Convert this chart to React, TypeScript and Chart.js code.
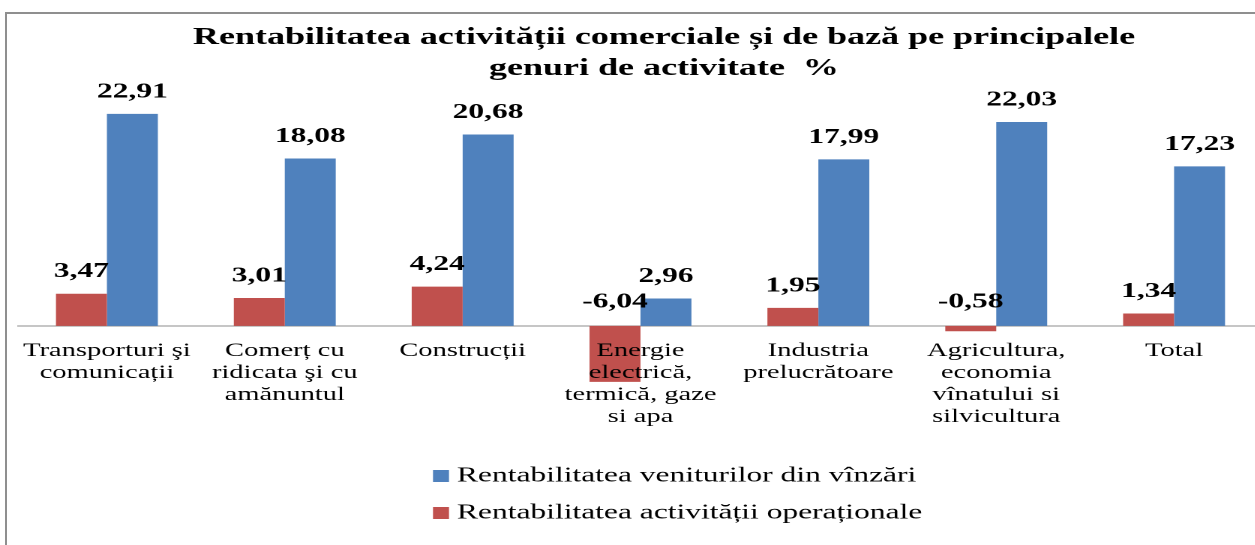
import { useEffect, useRef } from "react";
import { Chart, registerables } from "chart.js";

Chart.register(...registerables);

// ---------- data ----------
const categories: string[][] = [
  ["Transporturi şi", "comunicații"],
  ["Comerț cu", "ridicata şi cu", "amănuntul"],
  ["Construcții"],
  ["Energie", "electrică,", "termică, gaze", "si apa"],
  ["Industria", "prelucrătoare"],
  ["Agricultura,", "economia", "vînatului si", "silvicultura"],
  ["Total"],
];
const operationalValues = [3.47, 3.01, 4.24, -6.04, 1.95, -0.58, 1.34];
const salesValues = [22.91, 18.08, 20.68, 2.96, 17.99, 22.03, 17.23];
const operationalLabel = "Rentabilitatea activității operaționale";
const salesLabel = "Rentabilitatea veniturilor din vînzări";
const titleLines = [
  "Rentabilitatea activității comerciale și de bază pe principalele",
  "genuri de activitate  %",
];

// ---------- style ----------
const SX = 1.5; // horizontal stretch of the whole picture
const VIEW_W = 1300;
const INNER_W = VIEW_W / SX;
const H = 545;
const FONT = '"Liberation Serif", "Times New Roman", serif';
const RED = "#C0504D";
const BLUE = "#4F81BD";

const titlePlugin = {
  id: "customTitle",
  afterDraw(chart: any) {
    const ctx = chart.ctx;
    ctx.save();
    ctx.font = `bold 24px ${FONT}`;
    ctx.fillStyle = "#000";
    ctx.textAlign = "center";
    ctx.textBaseline = "middle";
    const cx = 664 / SX;
    titleLines.forEach((line, i) => ctx.fillText(line, cx, 38 + i * 31));
    ctx.restore();
  },
};

const valueLabelPlugin = {
  id: "valueLabels",
  afterDatasetsDraw(chart: any) {
    const ctx = chart.ctx;
    const zeroY = chart.scales.y.getPixelForValue(0);
    ctx.save();
    ctx.font = `bold 21px ${FONT}`;
    ctx.fillStyle = "#000";
    ctx.textAlign = "center";
    ctx.textBaseline = "middle";
    chart.data.datasets.forEach((ds: any, di: number) => {
      const meta = chart.getDatasetMeta(di);
      meta.data.forEach((bar: any, i: number) => {
        const v = ds.data[i] as number;
        const ref = v >= 0 ? bar.y : zeroY;
        const off = v >= 0 ? 22 : 24;
        ctx.fillText(v.toFixed(2).replace(".", ","), bar.x, ref - off);
      });
    });
    ctx.restore();
  },
};

const legendPlugin = {
  id: "customLegend",
  afterDraw(chart: any) {
    const ctx = chart.ctx;
    const ds = [...chart.data.datasets].reverse();
    ctx.save();
    ctx.font = `21px ${FONT}`;
    ctx.textAlign = "left";
    ctx.textBaseline = "middle";
    const boxX = 433 / SX;
    const boxW = 16 / SX;
    const textX = 457 / SX;
    ds.forEach((d: any, i: number) => {
      const cy = 476 + i * 37;
      ctx.fillStyle = d.backgroundColor;
      ctx.fillRect(boxX, cy - 6, boxW, 12);
      ctx.fillStyle = "#000";
      ctx.fillText(d.label, textX, cy);
    });
    ctx.restore();
  },
};

export default function App() {
  const canvasRef = useRef<HTMLCanvasElement | null>(null);

  useEffect(() => {
    if (!canvasRef.current) return;
    const chart = new Chart(canvasRef.current, {
      type: "bar",
      data: {
        labels: categories,
        datasets: [
          {
            label: operationalLabel,
            data: operationalValues,
            backgroundColor: RED,
            categoryPercentage: 0.573,
            barPercentage: 1,
          },
          {
            label: salesLabel,
            data: salesValues,
            backgroundColor: BLUE,
            categoryPercentage: 0.573,
            barPercentage: 1,
          },
        ],
      },
      options: {
        animation: false,
        responsive: false,
        devicePixelRatio: 2,
        layout: {
          padding: { left: 18 / SX, right: INNER_W - 1264 / SX, top: 94.5, bottom: 108 },
        },
        plugins: {
          legend: { display: false },
          title: { display: false },
          tooltip: { enabled: false },
        },
        scales: {
          x: {
            position: { y: 0 } as any,
            grid: { display: false, drawTicks: false },
            border: { display: true, color: "#8c8c8c", width: 1 },
            ticks: {
              z: 1,
              color: "#000",
              font: { family: FONT, size: 19, lineHeight: 22 / 19 },
              padding: 14,
              maxRotation: 0,
              minRotation: 0,
              autoSkip: false,
            },
          },
          y: {
            display: false,
            min: -12,
            max: 25,
          },
        },
      },
      plugins: [titlePlugin, valueLabelPlugin, legendPlugin],
    });
    return () => chart.destroy();
  }, []);

  return (
    <div
      style={{
        position: "fixed",
        left: 0,
        top: 0,
        width: 1255,
        height: H,
        overflow: "hidden",
        background: "#fff",
      }}
    >
      <div
        style={{
          position: "absolute",
          left: 0,
          top: 0,
          width: INNER_W,
          height: H,
          transform: `scaleX(${SX})`,
          transformOrigin: "0 0",
        }}
      >
        <canvas ref={canvasRef} width={INNER_W} height={H} />
      </div>
      <div
        style={{
          position: "absolute",
          left: 5,
          top: 12,
          width: 1400,
          height: 700,
          borderTop: "2px solid #8f8f8f",
          borderLeft: "2px solid #8f8f8f",
          pointerEvents: "none",
        }}
      />
    </div>
  );
}
